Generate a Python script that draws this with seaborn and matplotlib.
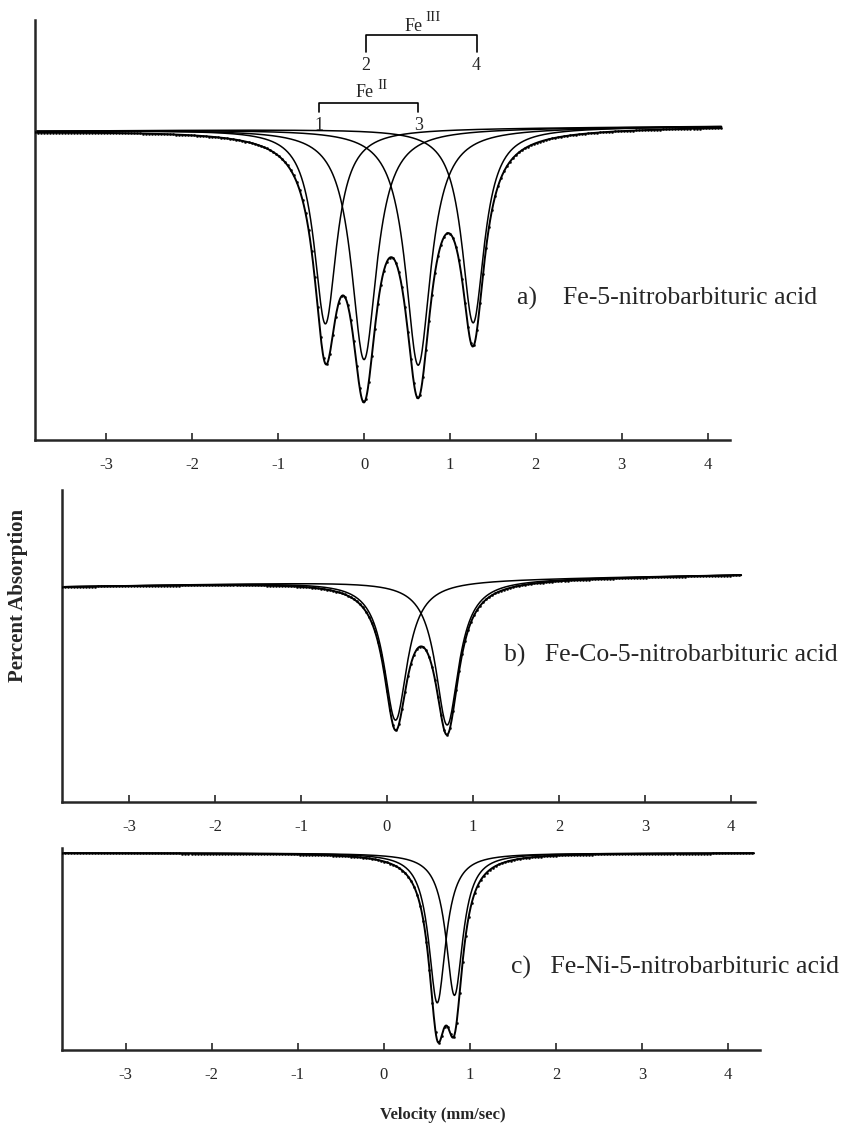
import numpy as np
import pandas as pd
import matplotlib
matplotlib.use("Agg")
import matplotlib.pyplot as plt
import seaborn as sns

# Mossbauer fit parameters (percent absorption, mm/s)
# a) Fe-5-nitrobarbituric acid : lines 1,3 = Fe(II) doublet, lines 2,4 = Fe(III) doublet
centers_a = [-0.45, 0.00, 0.63, 1.27]
depths_a = [6.5, 7.7, 7.9, 6.5]
hwhm_a = [0.16, 0.18, 0.18, 0.16]
drift_a = -0.02

# b) Fe-Co-5-nitrobarbituric acid
centers_b = [0.10, 0.70]
depths_b = [4.65, 4.84]
hwhm_b = [0.165, 0.165]
drift_b = -0.05

# c) Fe-Ni-5-nitrobarbituric acid
centers_c = [0.62, 0.82]
depths_c = [5.0, 4.75]
hwhm_c = [0.12, 0.12]
drift_c = 0.0

tick_values = [-3, -2, -1, 0, 1, 2, 3, 4]
tick_labels = ["-3", "-2", "-1", "0", "1", "2", "3", "4"]

panel_names = ["a)    Fe-5-nitrobarbituric acid",
               "b)   Fe-Co-5-nitrobarbituric acid",
               "c)   Fe-Ni-5-nitrobarbituric acid"]

sns.set_theme(style="ticks")
plt.rcParams["font.family"] = ["Liberation Serif", "DejaVu Serif"]
plt.rcParams["axes.linewidth"] = 1.8


def lorentz(v, c, d, w):
    return d / (1.0 + ((v - c) / w) ** 2)


def draw_panel(ax, centers, depths, widths, drift, vmin, vmax, ylim, xlim):
    v = np.linspace(vmin, vmax, 900)
    base = drift * v
    comps = [lorentz(v, c, d, w) for c, d, w in zip(centers, depths, widths)]
    total = base + np.sum(comps, axis=0)

    for comp in comps:
        sns.lineplot(x=v, y=base + comp, color="black", lw=1.1, ax=ax)
    sns.lineplot(x=v, y=total, color="black", lw=1.4, ax=ax)

    # measured points sit on the fit
    vp = np.arange(vmin, vmax, 0.035)
    bp = drift * vp + np.sum([lorentz(vp, c, d, w)
                             for c, d, w in zip(centers, depths, widths)], axis=0)
    pts = pd.DataFrame({"v": vp, "y": bp})
    sns.scatterplot(data=pts, x="v", y="y", s=3, color="black",
                    edgecolor=None, ax=ax, zorder=3)

    ax.set_xlim(*xlim)
    ax.set_ylim(*ylim)
    sns.despine(ax=ax)
    ax.set_xticks(tick_values)
    ax.set_xticklabels(tick_labels, fontsize=12)
    ax.set_yticks([])
    ax.tick_params(axis="x", direction="in", length=5, width=1.2, pad=12)
    ax.set_xlabel("")
    ax.set_ylabel("")
    ax.grid(False)


fig = plt.figure(figsize=(8.42, 11.35), dpi=100)

ax_a = fig.add_axes([0.0416, 0.6123, 0.8254, 0.3700])
ax_b = fig.add_axes([0.0736, 0.2934, 0.8230, 0.2749])
ax_c = fig.add_axes([0.0736, 0.0749, 0.8290, 0.1780])

draw_panel(ax_a, centers_a, depths_a, hwhm_a, drift_a,
           -3.83, 4.16, (10.38, -3.62), (-3.83, 4.26))
draw_panel(ax_b, centers_b, depths_b, hwhm_b, drift_b,
           -3.78, 4.12, (7.37, -3.03), (-3.78, 4.28))
draw_panel(ax_c, centers_c, depths_c, hwhm_c, drift_c,
           -3.74, 4.30, (6.57, -0.17), (-3.74, 4.37))

ax_a.text(1.78, 5.65, panel_names[0], fontsize=18.5, ha="left", va="center")
ax_b.text(1.36, 2.47, panel_names[1], fontsize=18.5, ha="left", va="center")
ax_c.text(1.48, 3.83, panel_names[2], fontsize=18.5, ha="left", va="center")

# Fe(III) and Fe(II) line assignments
fe3 = [0.02, 1.31]
fe2 = [-0.52, 0.63]
ax_a.plot([fe3[0], fe3[0], fe3[1], fe3[1]], [-2.55, -3.12, -3.12, -2.55],
          color="black", lw=1.2, clip_on=False)
ax_a.plot([fe2[0], fe2[0], fe2[1], fe2[1]], [-0.55, -0.86, -0.86, -0.55],
          color="black", lw=1.2, clip_on=False)
ax_a.text(fe3[0], -2.12, "2", fontsize=13, ha="center", va="center")
ax_a.text(fe3[1], -2.12, "4", fontsize=13, ha="center", va="center")
ax_a.text(fe2[0], -0.12, "1", fontsize=13, ha="center", va="center")
ax_a.text(fe2[1], -0.12, "3", fontsize=13, ha="center", va="center")
ax_a.text(0.58, -3.42, "Fe", fontsize=13, ha="center", va="center")
ax_a.text(0.72, -3.69, "III", fontsize=11, ha="left", va="center", clip_on=False)
ax_a.text(0.01, -1.19, "Fe", fontsize=13, ha="center", va="center")
ax_a.text(0.15, -1.45, "II", fontsize=11, ha="left", va="center")

fig.text(0.021, 1 - 595 / 1135, "Percent Absorption", rotation=90,
         fontsize=15, fontweight="bold", ha="center", va="center")
fig.text(443 / 842, 1 - 1115 / 1135, "Velocity (mm/sec)",
         fontsize=12, fontweight="bold", ha="center", va="center")

fig.savefig("out.png", dpi=100)
